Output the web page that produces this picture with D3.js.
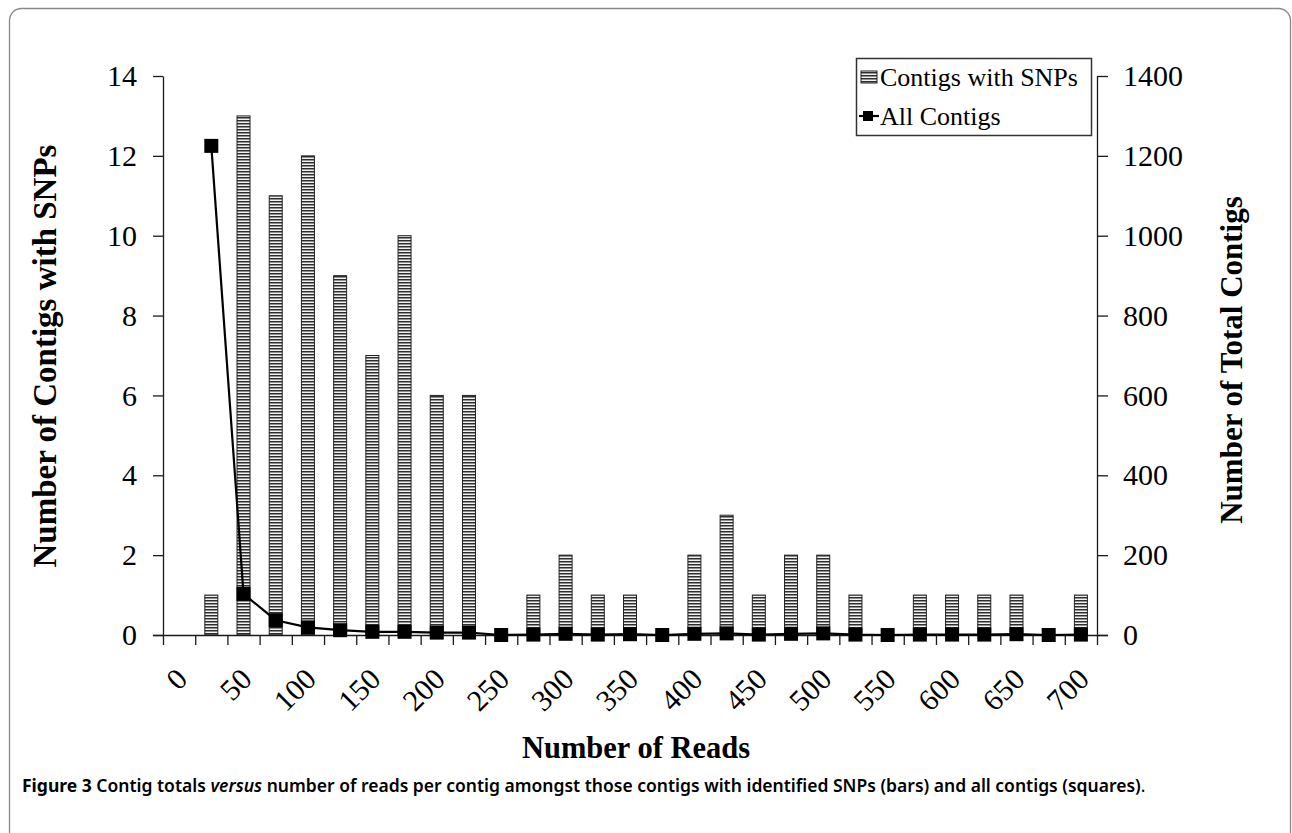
<!DOCTYPE html>
<html>
<head>
<meta charset="utf-8">
<title>Contig totals versus number of reads</title>
<script src="https://d3js.org/d3.v7.min.js"></script>
<style>
    body { margin: 0; background: #fff; }
    svg text { font-family: "Liberation Serif", "Times New Roman", serif; fill: #000; }
    .caption { font-family: "Noto Sans", "Open Sans", sans-serif; }
</style>
</head>
<body>
<div id="chart"></div>
<script>
    // Read bins (x categories) and the labels shown under every second bin
    const readBins = ["0", "25", "50", "75", "100", "125", "150", "175", "200", "225",
        "250", "275", "300", "325", "350", "375", "400", "425", "450", "475",
        "500", "525", "550", "575", "600", "625", "650", "675", "700"];
    const tickLabels = ["0", "50", "100", "150", "200", "250", "300", "350",
        "400", "450", "500", "550", "600", "650", "700"];

    // Contigs with SNPs (bars, left axis)
    const snpContigs = [0, 1, 13, 11, 12, 9, 7, 10, 6, 6, 0, 1, 2, 1, 1, 0, 2, 3, 1, 2,
        2, 1, 0, 1, 1, 1, 1, 0, 1];
    // All contigs (squares, right axis)
    const allContigs = [null, 1225, 103, 37, 19, 12, 8, 8, 6, 6, 0, 1, 3, 1, 2, 0, 3, 4, 1, 3,
        4, 1, 0, 1, 1, 1, 2, 0, 1];

    const leftTicks = [0, 2, 4, 6, 8, 10, 12, 14];
    const rightTicks = [0, 200, 400, 600, 800, 1000, 1200, 1400];

    const config = {
        width: 1292, height: 833,
        plot: { left: 163, right: 1097, top: 76, bottom: 635 },
        tickFont: 30, legendFont: 26
    };

    const svg = d3.select("#chart").append("svg")
        .attr("width", config.width)
        .attr("height", config.height);

    // figure frame
    svg.append("rect")
        .attr("x", 9.5).attr("y", 8.5)
        .attr("width", 1281).attr("height", 900)
        .attr("rx", 12)
        .attr("fill", "none")
        .attr("stroke", "#8a8a8a")
        .attr("stroke-width", 1.3);

    const defs = svg.append("defs");
    const stripes = defs.append("pattern")
        .attr("id", "stripes")
        .attr("patternUnits", "userSpaceOnUse")
        .attr("width", 6).attr("height", 3);
    stripes.append("rect").attr("width", 6).attr("height", 3).attr("fill", "#f2f2f2");
    stripes.append("rect").attr("width", 6).attr("height", 1.5).attr("fill", "#2e2e2e");

    const p = config.plot;

    // Scales
    const x = d3.scaleBand()
        .domain(readBins)
        .range([p.left, p.right])
        .padding(0);
    const xIndex = d3.scaleLinear()
        .domain([0, readBins.length])
        .range([p.left, p.right]);
    const yLeft = d3.scaleLinear().domain([0, 14]).range([p.bottom, p.top]);
    const yRight = d3.scaleLinear().domain([0, 1400]).range([p.bottom, p.top]);

    // Bars
    const barWidth = 13;
    svg.append("g").selectAll("rect")
        .data(readBins.map((b, i) => ({ bin: b, value: snpContigs[i] })).filter(d => d.value > 0))
        .enter()
        .append("rect")
        .attr("x", d => x(d.bin) + x.bandwidth() / 2 - barWidth / 2)
        .attr("y", d => yLeft(d.value))
        .attr("width", barWidth)
        .attr("height", d => yLeft(0) - yLeft(d.value))
        .attr("fill", "url(#stripes)")
        .attr("stroke", "#222")
        .attr("stroke-width", 1);

    // Left axis
    const leftAxis = svg.append("g")
        .attr("transform", `translate(${p.left},0)`)
        .call(d3.axisLeft(yLeft).tickValues(leftTicks).tickSize(10).tickSizeOuter(0).tickPadding(16));
    leftAxis.selectAll("text").style("font-size", config.tickFont + "px");

    // Right axis
    const rightAxis = svg.append("g")
        .attr("transform", `translate(${p.right},0)`)
        .call(d3.axisRight(yRight).tickValues(rightTicks).tickFormat(d3.format("d"))
            .tickSize(11).tickSizeOuter(0).tickPadding(15));
    rightAxis.selectAll("text").style("font-size", config.tickFont + "px");

    // Bottom axis: ticks at bin boundaries
    const bottomAxis = svg.append("g")
        .attr("transform", `translate(0,${p.bottom})`)
        .call(d3.axisBottom(xIndex).tickValues(d3.range(readBins.length + 1)).tickSize(10).tickSizeOuter(0).tickFormat(""));
    bottomAxis.select(".domain").remove();
    bottomAxis.append("line")
        .attr("x1", p.left - 10).attr("x2", p.right + 11)
        .attr("y1", 0.5).attr("y2", 0.5)
        .attr("stroke", "#000");

    [leftAxis, rightAxis, bottomAxis].forEach(a => {
        a.selectAll("line, path").attr("stroke", "#1a1a1a").attr("stroke-width", 1.3);
    });

    // Rotated x labels at every second bin
    svg.append("g").selectAll("text")
        .data(tickLabels)
        .enter()
        .append("text")
        .attr("transform", d => `translate(${x(d) + x.bandwidth() / 2 + 10},681) rotate(-45)`)
        .attr("text-anchor", "end")
        .style("font-size", config.tickFont + "px")
        .text(d => d);

    // All contigs line with square markers
    const pts = readBins.map((b, i) => ({ bin: b, value: allContigs[i] })).filter(d => d.value !== null);
    const line = d3.line()
        .x(d => x(d.bin) + x.bandwidth() / 2)
        .y(d => yRight(d.value));
    svg.append("path")
        .datum(pts)
        .attr("d", line)
        .attr("fill", "none")
        .attr("stroke", "#000")
        .attr("stroke-width", 2.2);
    const sq = 14;
    svg.append("g").selectAll("rect")
        .data(pts)
        .enter()
        .append("rect")
        .attr("x", d => x(d.bin) + x.bandwidth() / 2 - sq / 2)
        .attr("y", d => yRight(d.value) - sq / 2)
        .attr("width", sq).attr("height", sq)
        .attr("fill", "#000");

    // Axis titles
    svg.append("text")
        .attr("x", 636)
        .attr("y", 758)
        .attr("text-anchor", "middle")
        .style("font-size", "30.5px")
        .style("font-weight", "bold")
        .text("Number of Reads");

    svg.append("text")
        .attr("transform", "translate(56,356) rotate(-90)")
        .attr("text-anchor", "middle")
        .style("font-size", "33px")
        .style("font-weight", "bold")
        .text("Number of Contigs with SNPs");

    svg.append("text")
        .attr("transform", "translate(1242,360) rotate(-90)")
        .attr("text-anchor", "middle")
        .style("font-size", "31px")
        .style("font-weight", "bold")
        .text("Number of Total Contigs");

    // Legend
    const legend = svg.append("g");
    legend.append("rect")
        .attr("x", 856.5).attr("y", 58.5)
        .attr("width", 235).attr("height", 77)
        .attr("fill", "#fff")
        .attr("stroke", "#333")
        .attr("stroke-width", 1.5);
    legend.append("rect")
        .attr("x", 861).attr("y", 71)
        .attr("width", 16).attr("height", 12)
        .attr("fill", "url(#stripes)")
        .attr("stroke", "#222");
    legend.append("text")
        .attr("x", 880).attr("y", 86)
        .style("font-size", config.legendFont + "px")
        .text("Contigs with SNPs");
    legend.append("line")
        .attr("x1", 859).attr("x2", 879)
        .attr("y1", 116).attr("y2", 116)
        .attr("stroke", "#000").attr("stroke-width", 2.2);
    legend.append("rect")
        .attr("x", 863).attr("y", 111)
        .attr("width", 10).attr("height", 10)
        .attr("fill", "#000");
    legend.append("text")
        .attr("x", 880).attr("y", 125)
        .style("font-size", config.legendFont + "px")
        .text("All Contigs");

    // Caption
    const caption = svg.append("text")
        .attr("class", "caption")
        .attr("x", 22).attr("y", 792)
        .style("font-size", "17.5px")
        .style("font-weight", "bold");
    caption.append("tspan").text("Figure 3 ");
    caption.append("tspan").style("font-weight", "600").text("Contig totals ");
    caption.append("tspan").style("font-weight", "600").style("font-style", "italic").text("versus");
    caption.append("tspan").style("font-weight", "600")
        .text(" number of reads per contig amongst those contigs with identified SNPs (bars) and all contigs (squares)");
    caption.append("tspan").style("font-weight", "normal").text(".");
</script>
</body>
</html>
